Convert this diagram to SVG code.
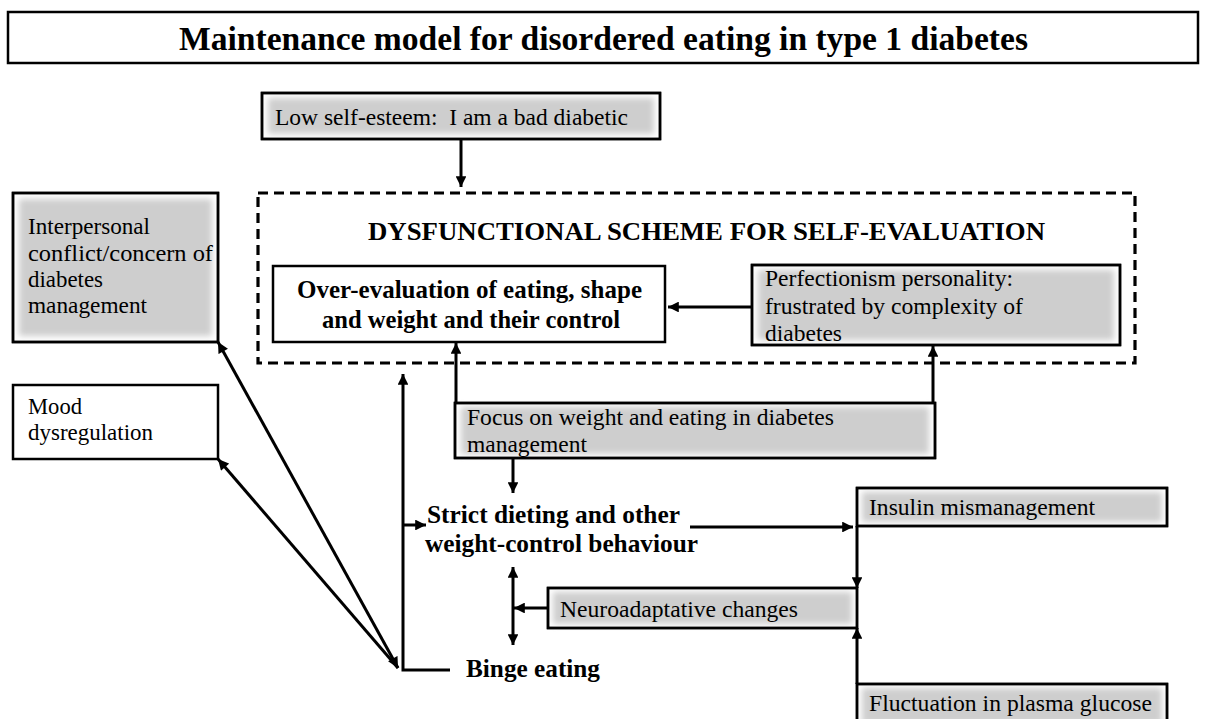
<svg xmlns="http://www.w3.org/2000/svg" width="1205" height="719" viewBox="0 0 1205 719">
<style>
text{font-family:"Liberation Serif","Times New Roman",serif;fill:#000}
.t{font-size:23.5px}
.b{font-weight:bold;font-size:25px}
.box{fill:#fff;stroke:#000;stroke-width:2.5}
.gin{fill:#cecece;filter:url(#soft)}
.edge{fill:none;stroke:#000;stroke-width:2.5}
.c{fill:none;stroke:#000;stroke-width:3}
</style>
<defs>
<filter id="soft" x="-10%" y="-30%" width="120%" height="160%"><feGaussianBlur stdDeviation="3"/></filter>
<marker id="ah" viewBox="0 0 10 10" refX="10" refY="5" markerWidth="4" markerHeight="3.6" orient="auto-start-reverse" markerUnits="strokeWidth"><path d="M0,0 L10,5 L0,10 z" fill="#000"/></marker>
</defs>
<g id="title">
<rect x="8" y="12" width="1190" height="51" class="box"/>
<text x="179" y="50" font-weight="bold" font-size="33" textLength="849" lengthAdjust="spacingAndGlyphs">Maintenance model for disordered eating in type 1 diabetes</text>
</g>
<g id="low-self-esteem">
<rect x="262" y="93" width="398" height="46" class="box"/>
<rect x="268" y="98" width="386" height="36" class="gin"/>
<rect x="262" y="93" width="398" height="46" class="edge"/>
<text x="275" y="125" class="t" textLength="353" lengthAdjust="spacingAndGlyphs">Low self-esteem:&#160; I am a bad diabetic</text>
</g>
<g id="dysfunctional-scheme">
<rect x="258" y="193" width="877" height="170" fill="none" stroke="#000" stroke-width="3.2" stroke-dasharray="10 6"/>
<text x="368" y="240" font-weight="bold" font-size="26" textLength="677" lengthAdjust="spacingAndGlyphs">DYSFUNCTIONAL SCHEME FOR SELF-EVALUATION</text>
</g>
<g id="over-evaluation">
<rect x="273" y="266" width="392" height="76" class="box"/>
<text x="297" y="298" font-size="24.5" font-weight="bold" textLength="345" lengthAdjust="spacingAndGlyphs">Over-evaluation of eating, shape</text>
<text x="322" y="328" font-size="24.5" font-weight="bold" textLength="298" lengthAdjust="spacingAndGlyphs">and weight and their control</text>
</g>
<g id="perfectionism">
<rect x="752" y="265" width="368" height="80" class="box"/>
<rect x="758" y="270" width="356" height="70" class="gin"/>
<rect x="752" y="265" width="368" height="80" class="edge"/>
<text x="765" y="286" class="t" textLength="248" lengthAdjust="spacingAndGlyphs">Perfectionism personality:</text>
<text x="765" y="314" class="t" textLength="258" lengthAdjust="spacingAndGlyphs">frustrated by complexity of</text>
<text x="765" y="341" class="t" textLength="77" lengthAdjust="spacingAndGlyphs">diabetes</text>
</g>
<g id="interpersonal">
<rect x="13" y="193" width="205" height="149" class="box"/>
<rect x="19" y="199" width="193" height="137" class="gin"/>
<rect x="13" y="193" width="205" height="149" class="edge"/>
<text x="28" y="234" class="t" textLength="122" lengthAdjust="spacingAndGlyphs">Interpersonal</text>
<text x="28" y="261" class="t" textLength="185" lengthAdjust="spacingAndGlyphs">conflict/concern of</text>
<text x="28" y="287" class="t" textLength="75" lengthAdjust="spacingAndGlyphs">diabetes</text>
<text x="28" y="313" class="t" textLength="119" lengthAdjust="spacingAndGlyphs">management</text>
</g>
<g id="mood">
<rect x="13" y="385" width="205" height="74" class="box"/>
<text x="28" y="414" class="t" textLength="54" lengthAdjust="spacingAndGlyphs">Mood</text>
<text x="28" y="440" class="t" textLength="125" lengthAdjust="spacingAndGlyphs">dysregulation</text>
</g>
<g id="focus">
<rect x="455" y="403" width="480" height="55" class="box"/>
<rect x="461" y="407" width="468" height="47" class="gin"/>
<rect x="455" y="403" width="480" height="55" class="edge"/>
<text x="467" y="425" class="t" textLength="367" lengthAdjust="spacingAndGlyphs">Focus on weight and eating in diabetes</text>
<text x="467" y="452" class="t" textLength="120" lengthAdjust="spacingAndGlyphs">management</text>
</g>
<g id="strict-dieting">
<text x="427" y="523" class="b" textLength="253" lengthAdjust="spacingAndGlyphs">Strict dieting and other</text>
<text x="425" y="552" class="b" textLength="273" lengthAdjust="spacingAndGlyphs">weight-control behaviour</text>
</g>
<g id="insulin">
<rect x="857" y="488" width="310" height="38" class="box"/>
<rect x="862" y="492" width="300" height="30" class="gin"/>
<rect x="857" y="488" width="310" height="38" class="edge"/>
<text x="869" y="515" class="t" textLength="226" lengthAdjust="spacingAndGlyphs">Insulin mismanagement</text>
</g>
<g id="neuroadaptative">
<rect x="548" y="588" width="309" height="40" class="box"/>
<rect x="553" y="592" width="299" height="32" class="gin"/>
<rect x="548" y="588" width="309" height="40" class="edge"/>
<text x="560" y="617" class="t" textLength="238" lengthAdjust="spacingAndGlyphs">Neuroadaptative changes</text>
</g>
<g id="fluctuation">
<rect x="857" y="684" width="310" height="40" class="box"/>
<rect x="862" y="688" width="300" height="36" class="gin"/>
<rect x="857" y="684" width="310" height="40" class="edge"/>
<text x="869" y="711" class="t" textLength="283" lengthAdjust="spacingAndGlyphs">Fluctuation in plasma glucose</text>
</g>
<g id="binge">
<text x="466" y="677" class="b" textLength="134" lengthAdjust="spacingAndGlyphs">Binge eating</text>
</g>
<g id="connectors">
<line x1="461" y1="139" x2="461" y2="187" class="c" marker-end="url(#ah)"/>
<line x1="752" y1="307" x2="668" y2="307" class="c" marker-end="url(#ah)"/>
<line x1="456" y1="403" x2="456" y2="343" class="c" marker-end="url(#ah)"/>
<line x1="933" y1="403" x2="933" y2="346" class="c" marker-end="url(#ah)"/>
<line x1="513" y1="458" x2="513" y2="493" class="c" marker-end="url(#ah)"/>
<polyline points="450,670 403,670 403,374" class="c" marker-end="url(#ah)"/>
<line x1="403" y1="525" x2="426" y2="525" class="c" marker-end="url(#ah)"/>
<line x1="690" y1="527" x2="853" y2="527" class="c" marker-end="url(#ah)"/>
<line x1="857" y1="526" x2="857" y2="588" class="c" marker-end="url(#ah)"/>
<line x1="857" y1="684" x2="857" y2="628" class="c" marker-end="url(#ah)"/>
<line x1="548" y1="608" x2="514" y2="608" class="c" marker-end="url(#ah)"/>
<line x1="513" y1="567" x2="513" y2="645" class="c" marker-start="url(#ah)" marker-end="url(#ah)"/>
<line x1="218" y1="342" x2="398" y2="668" class="c" marker-start="url(#ah)" marker-end="url(#ah)"/>
<line x1="218" y1="459" x2="398" y2="668" class="c" marker-start="url(#ah)"/>
</g>
</svg>
